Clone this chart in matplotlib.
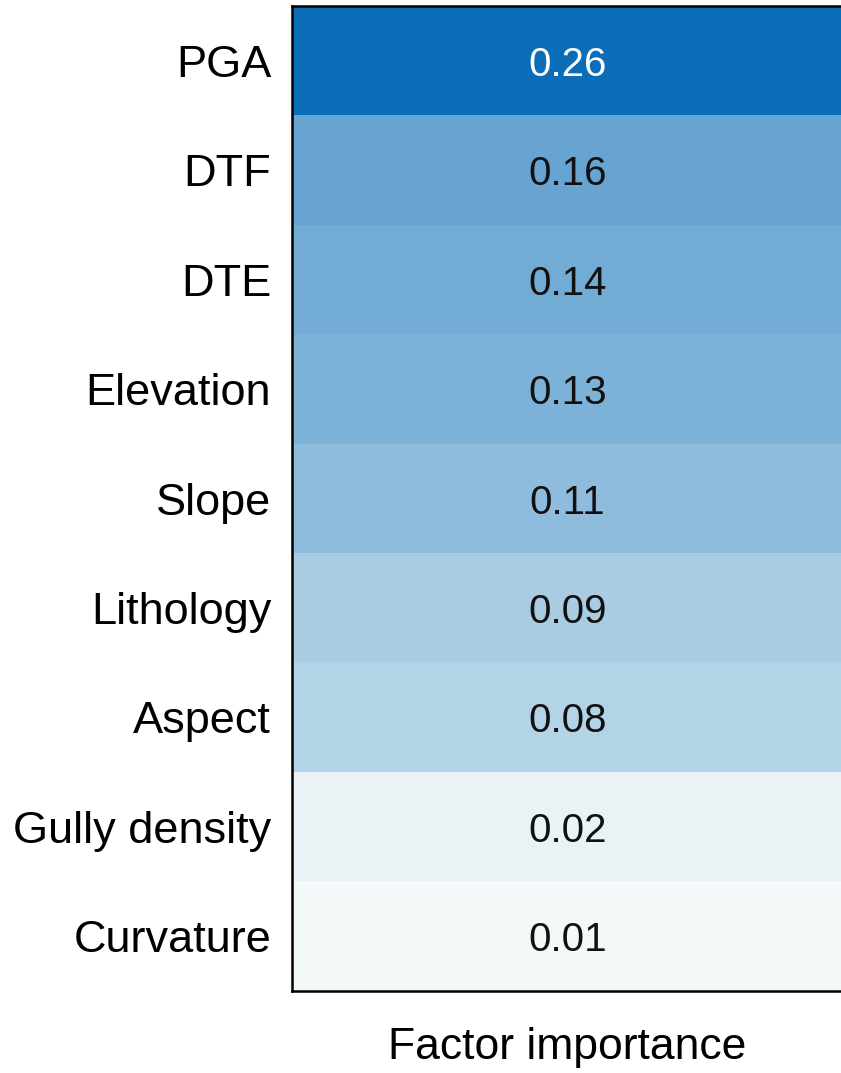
import numpy as np
import matplotlib.pyplot as plt
from matplotlib.colors import LinearSegmentedColormap

plt.rcParams['font.family'] = ['Liberation Sans', 'DejaVu Sans']

factors = ['PGA', 'DTF', 'DTE', 'Elevation', 'Slope', 'Lithology',
           'Aspect', 'Gully density', 'Curvature']
importance = [0.26, 0.16, 0.14, 0.13, 0.11, 0.09, 0.08, 0.02, 0.01]

# colour for each cell, anchored at its value
cell_colors = ['#0b6cb8', '#67a4d2', '#73acd5', '#7db2d8', '#8fbcdc',
               '#a9cce3', '#b3d3e7', '#e9f3f5', '#f3f8f8']

vals = np.array(importance)
vmin, vmax = vals.min(), vals.max()
order = np.argsort(vals)
anchors = [((vals[i] - vmin) / (vmax - vmin), cell_colors[i]) for i in order]
cmap = LinearSegmentedColormap.from_list('imp', anchors)

fig = plt.figure(figsize=(8.41, 10.73), dpi=100)
ax = fig.add_axes([292 / 841, 1 - 991 / 1073, 551 / 841, 985 / 1073])

ax.imshow(vals.reshape(-1, 1), cmap=cmap, vmin=vmin, vmax=vmax,
          aspect='auto', interpolation='nearest')

for i, v in enumerate(importance):
    ax.text(0, i, f'{v:.2f}', ha='center', va='center_baseline', fontsize=29,
            color='white' if v > 0.2 else '#111111')

ax.set_yticks(range(len(factors)))
ax.set_yticklabels(factors, fontsize=32.5)
for lbl in ax.get_yticklabels():
    lbl.set_verticalalignment('center_baseline')
ax.set_xticks([])
ax.tick_params(axis='y', length=0, pad=15)
for s in ['left', 'top', 'bottom']:
    ax.spines[s].set_linewidth(1.8)
ax.spines['right'].set_visible(False)

fig.text(567 / 841, 1 - 1048 / 1073, 'Factor importance', ha='center',
         va='center', fontsize=32)

fig.savefig('out.png', dpi=100)
